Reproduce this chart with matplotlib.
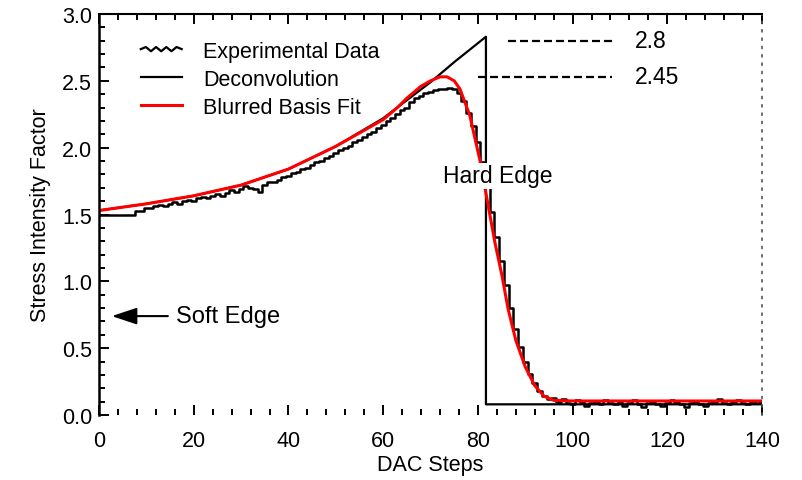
import numpy as np
import matplotlib

matplotlib.use("Agg")
import matplotlib.pyplot as plt
from matplotlib.legend_handler import HandlerBase
from matplotlib.lines import Line2D
from matplotlib.ticker import MultipleLocator

plt.rcParams["font.family"] = ["Liberation Sans", "DejaVu Sans"]

# experimental trace, one value per DAC step (0..140)
exp_y = [1.50, 1.50, 1.50, 1.50, 1.50, 1.50, 1.50, 1.50, 1.53, 1.53,
         1.55, 1.55, 1.56, 1.57, 1.56, 1.58, 1.59, 1.58, 1.60, 1.61,
         1.60, 1.62, 1.63, 1.62, 1.64, 1.65, 1.64, 1.66, 1.68, 1.67,
         1.69, 1.71, 1.70, 1.69, 1.67, 1.72, 1.74, 1.74, 1.76, 1.78,
         1.79, 1.81, 1.82, 1.84, 1.85, 1.87, 1.89, 1.90, 1.92, 1.94,
         1.96, 1.98, 2.00, 2.01, 2.04, 2.06, 2.08, 2.10, 2.12, 2.15,
         2.17, 2.20, 2.22, 2.25, 2.28, 2.30, 2.34, 2.37, 2.39, 2.41,
         2.42, 2.43, 2.44, 2.44, 2.45, 2.44, 2.41, 2.35, 2.26, 2.16,
         2.04, 1.89, 1.72, 1.52, 1.33, 1.15, 0.97, 0.80, 0.64, 0.51,
         0.40, 0.31, 0.24, 0.18, 0.14, 0.12, 0.13, 0.10, 0.12, 0.09,
         0.08, 0.11, 0.10, 0.07, 0.09, 0.10, 0.08, 0.11, 0.09, 0.08,
         0.10, 0.07, 0.09, 0.11, 0.08, 0.06, 0.09, 0.10, 0.08, 0.07,
         0.09, 0.11, 0.10, 0.08, 0.06, 0.09, 0.10, 0.08, 0.07, 0.09,
         0.10, 0.12, 0.09, 0.08, 0.10, 0.11, 0.09, 0.08, 0.10, 0.09,
         0.10]
exp_x = np.arange(len(exp_y))

deconv_x = [0, 10, 20, 30, 40, 50, 60, 70, 75, 81.7, 81.7, 140]
deconv_y = [1.53, 1.58, 1.64, 1.72, 1.84, 2.01, 2.22, 2.49, 2.64, 2.83, 0.08, 0.08]

fit_x = [0, 10, 20, 30, 40, 50, 60, 63, 65, 68, 70, 72, 73.5, 75, 76.2, 78.3, 80.4,
         81.9, 83.6, 85.1, 86.4, 88, 90, 92, 94, 96, 100, 140]
fit_y = [1.53, 1.58, 1.64, 1.72, 1.84, 2.01, 2.21, 2.30, 2.37, 2.46, 2.50, 2.53, 2.53, 2.50,
         2.44, 2.24, 1.91, 1.62, 1.29, 1.04, 0.79, 0.56, 0.36, 0.22, 0.14, 0.11, 0.105, 0.105]

peak_levels = [2.8, 2.53]
peak_labels = ["2.8", "2.45"]
peak_spans = [(86.4, 109), (80, 108.3)]


class ZigzagHandler(HandlerBase):
    def create_artists(self, legend, orig_handle, xdescent, ydescent, width, height, fontsize, trans):
        xs = np.linspace(-xdescent, width - xdescent, 9)
        ys = height / 2 - ydescent + np.array([0, 1, -1, 1, -1, 1, -1, 1, 0]) * height * 0.14
        line = Line2D(xs, ys, color="black", lw=1.6, transform=trans)
        return [line]


fig = plt.figure(figsize=(8.03, 4.81), dpi=100)
ax = fig.add_axes([0.1233, 0.1351, 0.8257, 0.8337])

exp_line, = ax.plot(exp_x, exp_y, color="black", lw=1.8, drawstyle="steps-mid")
dec_line, = ax.plot(deconv_x, deconv_y, color="black", lw=1.6)
fit_line, = ax.plot(fit_x, fit_y, color="#ff0000", lw=2.2)

for lev, lab, (x0, x1) in zip(peak_levels, peak_labels, peak_spans):
    ax.plot([x0, x1], [lev, lev], color="black", lw=1.6, linestyle=(0, (3.6, 1.8)))
    ax.text(113.2, lev, lab, fontsize=16.5, va="center", ha="left")

ax.text(72.6, 1.79, "Hard Edge", fontsize=16.5, va="center", ha="left",
        bbox=dict(facecolor="white", edgecolor="none", pad=1))
ax.annotate("Soft Edge", xy=(2.7, 0.74), xytext=(16.3, 0.74), fontsize=17, va="center", ha="left",
            arrowprops=dict(arrowstyle="-|>,head_length=0.9,head_width=0.3", color="black", lw=1.5,
                            shrinkA=4, shrinkB=0))

ax.set_xlim(0, 140)
ax.set_ylim(0, 3.0)
ax.xaxis.set_major_locator(MultipleLocator(20))
ax.xaxis.set_minor_locator(MultipleLocator(4))
ax.yaxis.set_major_locator(MultipleLocator(0.5))
ax.yaxis.set_minor_locator(MultipleLocator(0.1))
ax.yaxis.set_major_formatter(matplotlib.ticker.FormatStrFormatter("%.1f"))
ax.tick_params(which="both", direction="in", top=True, right=True, labelsize=15.5, width=1.4)
ax.tick_params(which="major", length=7, pad=5)
ax.tick_params(axis="x", which="major", pad=11)
ax.tick_params(which="minor", length=4)
ax.tick_params(axis="y", which="both", right=False)
ax.set_xlabel("DAC Steps", fontsize=15.5, labelpad=2)
ax.set_ylabel("Stress Intensity Factor", fontsize=15.5, labelpad=8)

ax.spines["bottom"].set_visible(False)
ax.spines["left"].set_linewidth(1.8)
ax.spines["top"].set_linewidth(1.5)
ax.spines["right"].set_linestyle((0, (1, 4)))
ax.spines["right"].set_linewidth(1.2)
ax.spines["right"].set_color("#555555")

ax.legend([exp_line, dec_line, fit_line], ["Experimental Data", "Deconvolution", "Blurred Basis Fit"],
          handler_map={exp_line: ZigzagHandler()}, loc="upper left", bbox_to_anchor=(0.05, 0.955),
          frameon=False, fontsize=15.5, handlelength=1.9, handletextpad=1.0, labelspacing=0.33,
          borderaxespad=0)

fig.savefig("out.png", dpi=100)
